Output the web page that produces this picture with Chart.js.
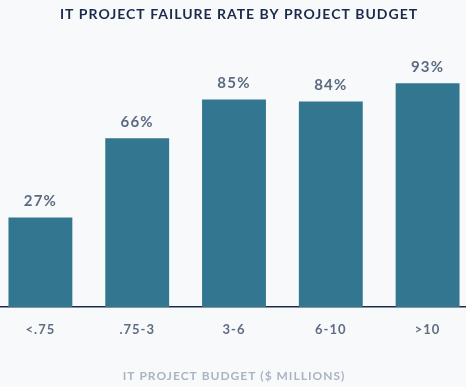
<!DOCTYPE html>
<html>
<head>
<meta charset="utf-8">
<script src="https://cdn.jsdelivr.net/npm/chart.js@4.4.0/dist/chart.umd.min.js"></script>
<style>
  html, body { margin: 0; padding: 0; background: #f8f9fb; overflow: hidden; }
  #wrap { position: absolute; left: -8px; top: 0; width: 484px; height: 387px; }
</style>
</head>
<body>
<div id="wrap"><canvas id="chart"></canvas></div>
<script>
const budgets = ['<.75', '.75-3', '3-6', '6-10', '>10'];
const failureRates = [27, 66, 85, 84, 93];
const chartTitle = 'IT PROJECT FAILURE RATE BY PROJECT BUDGET';
const axisTitle = 'IT PROJECT BUDGET ($ MILLIONS)';

const FONT = 'Lato, "DejaVu Sans", sans-serif';

// spacing between letters + title + value labels above the bars
const textPlugin = {
    id: 'textPlugin',
    beforeDraw: function (chart) {
        chart.ctx.letterSpacing = '1px';
    },
    afterDatasetsDraw: function (chart) {
        const ctx = chart.ctx;
        const meta = chart.getDatasetMeta(0);
        ctx.save();
        ctx.letterSpacing = '1.2px';
        ctx.font = 'bold 15px ' + FONT;
        ctx.fillStyle = '#5b6a80';
        ctx.textAlign = 'center';
        ctx.textBaseline = 'middle';
        meta.data.forEach(function (bar, i) {
            ctx.fillText(failureRates[i] + '%', bar.x, bar.y - 16);
        });

        ctx.letterSpacing = '1px';
        ctx.font = 'bold 14px ' + FONT;
        ctx.fillStyle = '#1b2a4b';
        ctx.fillText(chartTitle, 247, 14);
        ctx.restore();
    }
};

const chart = new Chart(document.getElementById('chart'), {
    type: 'bar',
    data: {
        labels: budgets,
        datasets: [{
            data: failureRates,
            backgroundColor: '#33768f',
            base: -17,
            categoryPercentage: 1,
            barPercentage: 0.66
        }]
    },
    options: {
        responsive: true,
        maintainAspectRatio: false,
        animation: false,
        layout: { padding: { top: 69, bottom: 4 } },
        plugins: {
            legend: { display: false },
            tooltip: { enabled: false }
        },
        scales: {
            x: {
                grid: { display: false, drawTicks: false },
                border: { display: true, color: '#1c2a4a', width: 1.5 },
                ticks: {
                    padding: 15.5,
                    color: '#5f6d82',
                    font: { family: FONT, size: 13, weight: 'bold' }
                },
                title: {
                    display: true,
                    text: axisTitle,
                    color: '#aab4c2',
                    padding: { top: 15, bottom: 0 },
                    font: { family: FONT, size: 12, weight: 'bold' }
                }
            },
            y: {
                display: false,
                min: -17,
                max: 100
            }
        }
    },
    plugins: [textPlugin]
});
</script>
</body>
</html>
